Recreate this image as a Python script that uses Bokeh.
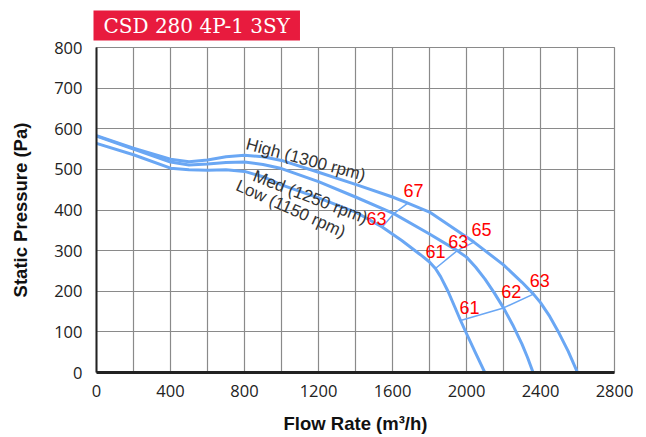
from bokeh.plotting import figure
from bokeh.models import Range1d, SingleIntervalTicker, ColumnDataSource
from bokeh.core.properties import value
from bokeh.embed import file_html
from bokeh.resources import INLINE

# ---- data ----
high_flow = [0, 200, 400, 500, 600, 700, 800, 900, 1000, 1200, 1400, 1600, 1683, 1800, 2040, 2200, 2300, 2362, 2400, 2450, 2500, 2550, 2600]
high_pa   = [583, 552, 525, 519, 523, 531, 535, 531, 522, 493, 463, 432, 417, 395, 321, 265, 222, 193, 172, 138, 97, 52, 0]

med_flow = [0, 200, 400, 500, 600, 700, 800, 900, 1000, 1200, 1400, 1607, 1800, 1950, 2000, 2050, 2100, 2150, 2200, 2250, 2300, 2330, 2360]
med_pa   = [582, 550, 518, 511, 513, 517, 518, 512, 502, 470, 432, 391, 341, 300, 284, 259, 230, 196, 159, 117, 70, 37, 0]

low_flow = [0, 200, 400, 500, 600, 700, 800, 900, 1000, 1200, 1400, 1544, 1650, 1751, 1800, 1832, 1860, 1900, 1935, 1968, 2000, 2050, 2099]
low_pa   = [564, 536, 503, 499, 498, 499, 495, 482, 462, 430, 395, 358, 325, 290, 272, 256, 236, 200, 163, 128, 96, 47, 0]

iso_flow = [[1544, 1607, 1683], [1832, 1950, 2040], [1968, 2200, 2362]]
iso_pa   = [[358, 391, 417], [256, 300, 321], [128, 159, 193]]

noise_text = ["67", "63", "65", "63", "61", "63", "62", "61"]
noise_flow = [1714, 1514, 2081, 1955, 1832, 2396, 2242, 2016]
noise_pa   = [447, 379, 351, 323, 298, 226, 200, 160]

curve_names = ["High (1300 rpm)", "Med (1250 rpm)", "Low (1150 rpm)"]
name_flow = [811, 850, 760]
name_pa = [563, 485, 462]
name_angle = [-15, -21, -24]

title_text = "CSD 280 4P-1 3SY"

BLUE = "#6aa7f4"

p = figure(width=640, height=437, output_backend="svg", toolbar_location=None,
           x_range=Range1d(0, 2800), y_range=Range1d(0, 800),
           min_border_left=96, min_border_right=26, min_border_top=47, min_border_bottom=65)

p.title.text = title_text
p.title.text_color = "white"
p.title.text_font = "DejaVu Serif"
p.title.text_font_size = "20px"
p.title.text_font_style = "normal"
p.title.background_fill_color = "#e81b3e"
p.title.align = "left"
p.title.padding = (10, 3)
p.title.standoff = 14
p.title.offset = -3

p.background_fill_color = "white"
p.border_fill_color = "white"
p.outline_line_color = "#8a8a8a"
p.outline_line_width = 1.2

p.xaxis.ticker = SingleIntervalTicker(interval=400)
p.yaxis.ticker = SingleIntervalTicker(interval=100)
p.xgrid.ticker = SingleIntervalTicker(interval=200)
p.ygrid.ticker = SingleIntervalTicker(interval=100)
for g in (p.xgrid, p.ygrid):
    g.grid_line_color = "#8a8a8a"
    g.grid_line_width = 1.2

for ax in (p.xaxis, p.yaxis):
    ax.axis_line_color = "#222222"
    ax.major_tick_out = 0
    ax.major_tick_in = 0
    ax.minor_tick_out = 0
    ax.minor_tick_in = 0
    ax.major_label_text_font = "Open Sans"
    ax.major_label_text_font_size = "16.5px"
    ax.major_label_text_color = "#222222"
    ax.axis_label_text_font = "Liberation Sans"
    ax.axis_label_text_font_style = "bold"
    ax.axis_label_text_font_size = "18.5px"
    ax.axis_label_text_color = "#111111"

p.xaxis.axis_line_width = 3
p.yaxis.axis_line_width = 2
p.xaxis.major_label_standoff = 12
p.yaxis.major_label_standoff = 14
p.xaxis.axis_label = "Flow Rate (m³/h)"
p.yaxis.axis_label = "Static Pressure (Pa)"
p.xaxis.axis_label_standoff = 13
p.yaxis.axis_label_standoff = 20

for fx, fy in ((high_flow, high_pa), (med_flow, med_pa), (low_flow, low_pa)):
    p.line(fx, fy, line_color=BLUE, line_width=3, line_join="round")

p.multi_line(iso_flow, iso_pa, line_color=BLUE, line_width=1.5)

p.text(x=noise_flow, y=noise_pa, text=noise_text, text_color="#ff0000",
       text_font=value("Liberation Sans"), text_font_size="18px",
       text_align="center", text_baseline="middle")

src = ColumnDataSource(dict(x=name_flow, y=name_pa, t=curve_names, a=name_angle))
p.text(x="x", y="y", text="t", angle="a", angle_units="deg", source=src,
       text_color="#333333", text_font=value("Liberation Sans"), text_font_size="17px",
       text_align="left", text_baseline="alphabetic")

open("out.html", "w").write(file_html(p, INLINE))
